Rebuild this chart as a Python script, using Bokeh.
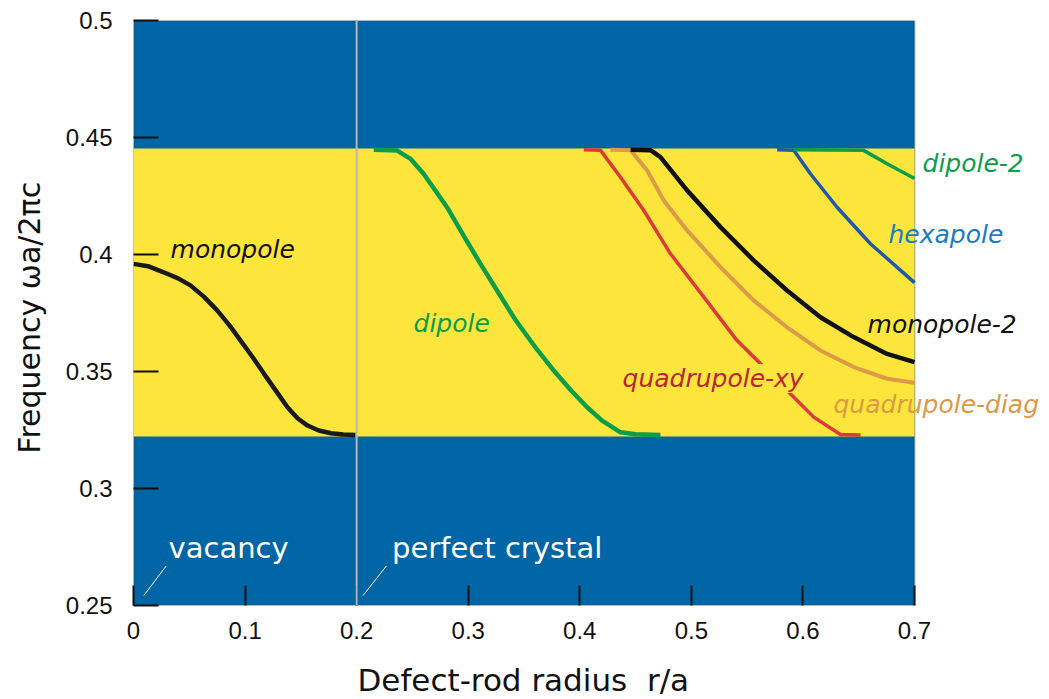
from bokeh.plotting import figure
from bokeh.models import Range1d, FixedTicker, Label, Span, BoxAnnotation, Title
from bokeh.embed import file_html
from bokeh.resources import INLINE

# ---------------- data ----------------
x_ticks = [0, 0.1, 0.2, 0.3, 0.4, 0.5, 0.6, 0.7]
x_tick_labels = ["0", "0.1", "0.2", "0.3", "0.4", "0.5", "0.6", "0.7"]
y_ticks = [0.25, 0.3, 0.35, 0.4, 0.45, 0.5]
y_tick_labels = ["0.25", "0.3", "0.35", "0.4", "0.45", "0.5"]

gap_lower = 0.3222
gap_upper = 0.4453
perfect_crystal_r = 0.2

monopole_r = [0.0, 0.013, 0.027, 0.040, 0.051, 0.063, 0.075, 0.086, 0.096, 0.107,
              0.117, 0.128, 0.138, 0.147, 0.156, 0.166, 0.177, 0.188, 0.199]
monopole_f = [0.3960, 0.3950, 0.3924, 0.3898, 0.3868, 0.3820, 0.3761, 0.3697, 0.3632, 0.3560,
              0.3490, 0.3415, 0.3347, 0.3300, 0.3269, 0.3248, 0.3236, 0.3231, 0.3229]

dipole_r = [0.2154, 0.2363, 0.248, 0.260, 0.281, 0.296, 0.311, 0.326, 0.3408, 0.3469,
            0.3620, 0.3767, 0.392, 0.4066, 0.420, 0.4365, 0.450, 0.4723]
dipole_f = [0.4448, 0.4444, 0.4410, 0.4345, 0.4202, 0.4080, 0.3960, 0.3845, 0.3732, 0.3690,
            0.3592, 0.3504, 0.3420, 0.3347, 0.3290, 0.3240, 0.3232, 0.3229]

quad_xy_r = [0.4036, 0.4185, 0.4365, 0.4574, 0.4813, 0.5112, 0.541, 0.562, 0.5858, 0.6097,
             0.6336, 0.6516]
quad_xy_f = [0.4448, 0.4446, 0.4330, 0.4188, 0.4003, 0.3818, 0.3632, 0.3533, 0.3419, 0.3305,
             0.3231, 0.3229]

quad_diag_r = [0.4275, 0.4455, 0.4604, 0.4753, 0.4962, 0.5261, 0.556, 0.5858, 0.6157, 0.6455,
               0.6754, 0.7]
quad_diag_f = [0.4448, 0.4446, 0.4359, 0.4231, 0.4103, 0.3946, 0.3803, 0.3689, 0.3590, 0.3519,
               0.3469, 0.3452]

monopole2_r = [0.4455, 0.4634, 0.4723, 0.4962, 0.5261, 0.556, 0.5858, 0.6157, 0.6455, 0.6754, 0.7]
monopole2_f = [0.4448, 0.4446, 0.4416, 0.4274, 0.4117, 0.3974, 0.3846, 0.3732, 0.3647, 0.3575, 0.3540]

hexapole_r = [0.5769, 0.5918, 0.6067, 0.6306, 0.6605, 0.7]
hexapole_f = [0.4448, 0.4446, 0.4345, 0.4202, 0.4046, 0.3880]

dipole2_r = [0.5918, 0.654, 0.6754, 0.7]
dipole2_f = [0.4448, 0.4446, 0.4388, 0.4325]

# ---------------- layout / styles ----------------
BLUE_BG = "#0065a4"
YELLOW = "#fde53b"

CANVAS_W, CANVAS_H = 1041, 699
BORDER_L, BORDER_T, BORDER_B = 133, 20, 94
DATA_PX = 781                                   # pixel width of the 0..0.7 data area
FRAME_PX = CANVAS_W - BORDER_L                  # frame extends to the right edge (room for labels)
x_end = x_ticks[-1] * FRAME_PX / DATA_PX

p = figure(width=CANVAS_W, height=CANVAS_H, output_backend="svg", toolbar_location=None,
           x_range=Range1d(x_ticks[0], x_end), y_range=Range1d(y_ticks[0], y_ticks[-1]),
           min_border_left=BORDER_L, min_border_right=0, min_border_top=BORDER_T,
           min_border_bottom=BORDER_B)
p.background_fill_color = "white"
p.border_fill_color = "white"
p.outline_line_color = None
p.grid.visible = False

# blue photonic-crystal area with dark frame, and yellow band gap
p.add_layout(BoxAnnotation(left=x_ticks[0], right=x_ticks[-1], bottom=y_ticks[0], top=y_ticks[-1],
                           fill_color=BLUE_BG, fill_alpha=1.0, line_color="#333333",
                           line_width=2, level="underlay"))
p.add_layout(BoxAnnotation(left=x_ticks[0], right=x_ticks[-1], bottom=gap_lower, top=gap_upper,
                           fill_color=YELLOW, fill_alpha=1.0, line_color=None, level="underlay"))

# axes
xa = p.xaxis[0]
xa.ticker = FixedTicker(ticks=x_ticks)
xa.bounds = (x_ticks[0], x_ticks[-1])
xa.major_label_overrides = dict(zip(x_ticks, x_tick_labels))
xa.major_tick_in = 20
xa.major_tick_out = 0
xa.major_tick_line_width = 2
xa.major_tick_line_color = "#111111"
xa.minor_tick_line_color = None
xa.axis_line_color = None
xa.major_label_text_font = "Liberation Sans"
xa.major_label_text_font_size = "24px"
xa.major_label_text_color = "#111111"
xa.major_label_standoff = 16
xa.axis_label = "\u00a0"
xa.axis_label_text_font_size = "12px"
xa.axis_label_standoff = 0

# x-axis title, left-aligned under the data area
p.add_layout(Title(text="Defect-rod radius\u00a0 r/a", align="left", offset=224, standoff=3,
                   text_font="DejaVu Sans", text_font_style="normal", text_font_size="31px",
                   text_color="#111111"), "below")

ya = p.yaxis[0]
ya.ticker = FixedTicker(ticks=y_ticks)
ya.major_label_overrides = dict(zip(y_ticks, y_tick_labels))
ya.major_tick_in = 25
ya.major_tick_out = 0
ya.major_tick_line_width = 2
ya.major_tick_line_color = "#111111"
ya.minor_tick_line_color = None
ya.axis_line_color = None
ya.major_label_text_font = "Liberation Sans"
ya.major_label_text_font_size = "24px"
ya.major_label_text_color = "#111111"
ya.major_label_standoff = 21
ya.axis_label = "Frequency  \u03c9a/2\u03c0c"
ya.axis_label_text_font = "DejaVu Sans"
ya.axis_label_text_font_style = "normal"
ya.axis_label_text_font_size = "30px"
ya.axis_label_text_color = "#111111"
ya.axis_label_standoff = 16

# curves
p.line(monopole_r, monopole_f, line_color="#1a1a1a", line_width=4.5)
p.line(dipole_r, dipole_f, line_color="#0a9e4a", line_width=4.5)
p.line(quad_xy_r, quad_xy_f, line_color="#dc3a3a", line_width=3.5)
p.line(quad_diag_r, quad_diag_f, line_color="#dc9a48", line_width=4)
p.line(monopole2_r, monopole2_f, line_color="#111111", line_width=4.5)
p.line(hexapole_r, hexapole_f, line_color="#2258a8", line_width=3.5)
p.line(dipole2_r, dipole2_f, line_color="#0a9e4a", line_width=3.5)

# vertical divider (perfect crystal)
p.add_layout(Span(location=perfect_crystal_r, dimension="height", line_color="#b8b8b8", line_width=2))

# leader lines
p.segment(x0=[0.0093, 0.2058], y0=[0.2543, 0.2543], x1=[0.0293, 0.2267], y1=[0.2669, 0.2669],
          line_color="white", line_width=1)

def curve_label(x, y, text, color, bg=None, size="25px"):
    lab = Label(x=x, y=y, text=text, text_color=color, text_font="DejaVu Sans",
                text_font_style="italic", text_font_size=size, text_align="left",
                text_baseline="middle")
    if bg is not None:
        lab.background_fill_color = bg
        lab.background_fill_alpha = 1.0
    p.add_layout(lab)

curve_label(0.0332, 0.4021, "monopole", "#111111")
curve_label(0.251, 0.3705, "dipole", "#0a9e4a")
curve_label(0.4383, 0.3470, "quadrupole-xy", "#b8282e", bg=YELLOW)
curve_label(0.6274, 0.3359, "quadrupole-diag", "#dc9a48")
curve_label(0.6579, 0.3701, "monopole-2", "#111111")
curve_label(0.6767, 0.4085, "hexapole", "#1a7cc0")
curve_label(0.7072, 0.4389, "dipole-2", "#0a9e4a")

for tx, txt in [(0.0314, "vacancy"), (0.2318, "perfect crystal")]:
    p.add_layout(Label(x=tx, y=0.2744, text=txt, text_color="white", text_font="DejaVu Sans",
                       text_font_size="29px", text_align="left", text_baseline="middle"))

open("out.html", "w").write(file_html(p, INLINE))
